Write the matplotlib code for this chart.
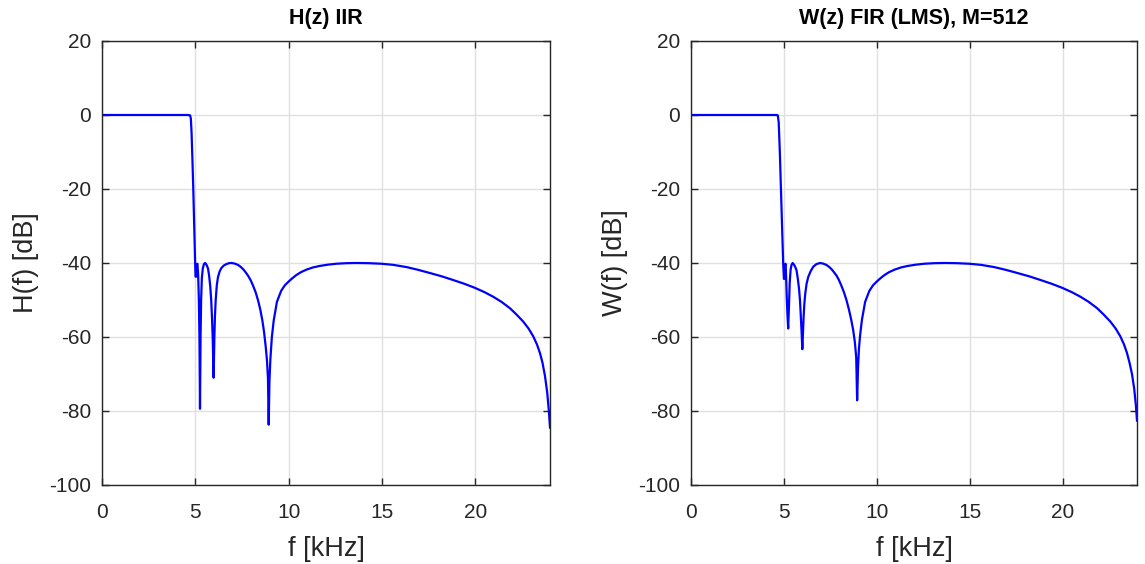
import matplotlib
matplotlib.use("Agg")
import matplotlib.pyplot as plt

plt.rcParams['font.family'] = ['Liberation Sans', 'DejaVu Sans']
plt.rcParams['axes.unicode_minus'] = False

# ---- data ----
f_h = [0, 1, 2, 3, 4, 4.6, 4.72, 4.76, 4.80, 4.85, 4.89, 4.94, 4.98, 5.01, 5.05, 5.07,
       5.11, 5.15, 5.19, 5.22, 5.25, 5.28, 5.31, 5.35, 5.40, 5.46, 5.53, 5.61, 5.68,
       5.74, 5.80, 5.85, 5.89, 5.93, 5.98, 6.02, 6.05, 6.09, 6.15, 6.21, 6.30, 6.39,
       6.52, 6.66, 6.80, 6.93, 7.10, 7.28, 7.42, 7.55, 7.68, 7.82, 7.96, 8.09, 8.23,
       8.36, 8.48, 8.59, 8.68, 8.77, 8.84, 8.89, 8.93, 8.97, 9.02, 9.1, 9.2, 9.37,
       9.6, 9.8, 10.0, 10.2, 10.4, 10.65, 10.95, 11.3, 11.66, 12.1, 12.55, 13.1, 13.63,
       14.3, 14.97, 15.6, 16.31, 16.9, 17.56, 18.2, 18.81, 19.4, 19.97, 20.5, 20.95,
       21.4, 21.85, 22.2, 22.56, 22.85, 23.1, 23.3, 23.46, 23.6, 23.73, 23.85, 23.94, 24.0]
h_db = [0, 0, 0, 0, 0, 0, -0.1, -1, -5, -13, -20, -30, -38, -43.7, -43.7, -40.5,
        -40.2, -43, -50, -60, -79.4, -60, -50, -44, -41.5, -40.3, -40, -40.6, -41.5,
        -43.5, -46.4, -50, -54.5, -60, -71, -60, -54.5, -50.1, -46.0, -43.9, -42.3, -41.4,
        -40.7, -40.3, -40.05, -40.0, -40.15, -40.5, -41.0, -41.6, -42.4, -43.4, -44.6, -46.1, -47.9,
        -50.1, -52.6, -55.5, -58.6, -62.6, -66.5, -71.0, -83.7, -72.0, -66.0, -60.0, -55.5, -50.5,
        -47.5, -46.0, -45.0, -44.1, -43.3, -42.5, -41.8, -41.2, -40.8, -40.45, -40.2, -40.05, -40.0,
        -40.05, -40.2, -40.5, -41.1, -41.8, -42.7, -43.6, -44.6, -45.6, -46.7, -47.9, -49.1,
        -50.5, -52.2, -53.9, -55.8, -57.7, -59.8, -62, -64.3, -67, -70.5, -75, -80, -84.5]

f_w = [0, 1, 2, 3, 4, 4.6, 4.67, 4.72, 4.78, 4.84, 4.90, 4.96, 5.00, 5.03, 5.06, 5.09,
       5.12, 5.15, 5.19, 5.23, 5.27, 5.31, 5.36, 5.41, 5.47, 5.55, 5.62, 5.68, 5.75,
       5.82, 5.87, 5.91, 5.95, 5.99, 6.03, 6.06, 6.10, 6.15, 6.22, 6.31, 6.44, 6.58,
       6.75, 6.94, 7.10, 7.28, 7.42, 7.55, 7.68, 7.83, 7.96, 8.09, 8.23, 8.37, 8.50,
       8.62, 8.73, 8.82, 8.89, 8.94, 8.99, 9.04, 9.1, 9.2, 9.37, 9.6, 9.8, 10.0, 10.2,
       10.4, 10.65, 10.95, 11.3, 11.66, 12.1, 12.55, 13.1, 13.63, 14.3, 14.97, 15.6,
       16.31, 16.9, 17.56, 18.2, 18.81, 19.4, 19.97, 20.5, 20.95, 21.4, 21.85, 22.2,
       22.56, 22.85, 23.1, 23.3, 23.46, 23.6, 23.73, 23.85, 23.94, 24.0]
w_db = [0, 0, 0, 0, 0, 0, -0.1, -2, -10, -20, -30, -40, -44.3, -44.3, -40.5, -40.2,
        -44, -49, -54, -57.7, -52, -45.5, -41.8, -40.5, -40, -40.5, -41.2, -42, -44.3,
        -47.3, -50.5, -54.5, -58.5, -63.3, -58.5, -54.5, -51, -48.2, -45.6, -43.75, -42.2, -41,
        -40.3, -40, -40.15, -40.5, -41.0, -41.6, -42.4, -43.4, -44.6, -46.1, -47.9, -50.1, -52.6,
        -55.3, -58.2, -61.5, -65.5, -77.1, -68.0, -63.0, -59.5, -55.3, -50.5, -47.5, -46.0, -45.0, -44.1,
        -43.3, -42.5, -41.8, -41.2, -40.8, -40.45, -40.2, -40.05, -40.0, -40.05, -40.2, -40.5,
        -41.1, -41.8, -42.7, -43.6, -44.6, -45.6, -46.7, -47.9, -49.1, -50.5, -52.2, -53.9,
        -55.8, -57.7, -59.8, -62, -64.3, -67, -70, -74, -78.5, -82.6]

x_ticks = [0, 5, 10, 15, 20]
y_ticks = [-100, -80, -60, -40, -20, 0, 20]
titles = ["H(z) IIR", "W(z) FIR (LMS), M=512"]
ylabels = ["H(f) [dB]", "W(f) [dB]"]
xlabel = "f [kHz]"

fig = plt.figure(figsize=(11.45, 5.64), dpi=100)
ax1 = fig.add_axes([102 / 1145, 79 / 564, 448 / 1145, 444 / 564])
ax2 = fig.add_axes([691 / 1145, 79 / 564, 446 / 1145, 444 / 564])

for ax, fx, yv, t, yl in [(ax1, f_h, h_db, titles[0], ylabels[0]),
                          (ax2, f_w, w_db, titles[1], ylabels[1])]:
    ax.plot(fx, yv, color='#0000ff', linewidth=1.6)
    ax.set_xlim(0, 24)
    ax.set_ylim(-100, 20)
    ax.set_xticks(x_ticks)
    ax.set_yticks(y_ticks)
    ax.grid(True, color='#e0e0e0', linewidth=1.0)
    ax.set_axisbelow(True)
    for s in ax.spines.values():
        s.set_color('#262626')
        s.set_linewidth(1.0)
    ax.tick_params(direction='in', top=True, right=True, length=5, width=1.0,
                   colors='#262626', labelsize=15)
    ax.tick_params(axis='x', pad=13)
    ax.tick_params(axis='y', pad=8)
    ax.set_title(t, fontsize=15.5, fontweight='bold', color='#000000', pad=12)
    ax.set_xlabel(xlabel, fontsize=19.5, color='#262626', labelpad=10)
    ax.set_ylabel(yl, fontsize=19.5, color='#262626', labelpad=7)

fig.savefig("out.png", dpi=100)
